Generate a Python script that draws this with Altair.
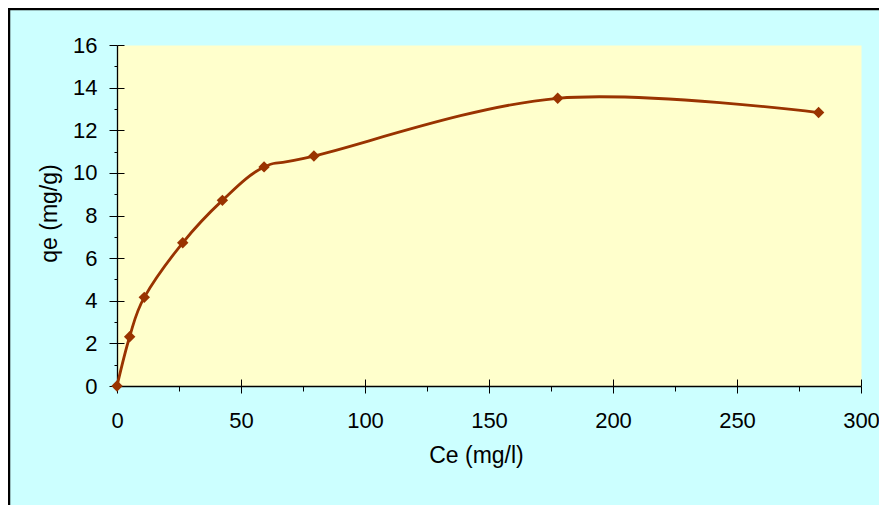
import altair as alt
import pandas as pd

# Data
ce = [0, 5.1, 11.0, 26.5, 42.5, 59.3, 79.4, 177.7, 282.9]
qe = [0, 2.31, 4.16, 6.72, 8.71, 10.28, 10.79, 13.50, 12.83]

x_major = [0, 50, 100, 150, 200, 250, 300]
x_minor = [25, 75, 125, 175, 225, 275]
y_major = [0, 2, 4, 6, 8, 10, 12, 14, 16]
y_minor = [1, 3, 5, 7, 9, 11, 13, 15]

df = pd.DataFrame({"Ce": ce, "qe": qe})

W, H = 744, 341
PL, PT = 109, 37
TOTAL_W, TOTAL_H = 871, 497

FONT = "Liberation Sans"
FS = 22
TFS = 23
LINE_COLOR = "#993300"

xscale = alt.Scale(domain=[0, 300], nice=False, zero=True)
yscale = alt.Scale(domain=[0, 16], nice=False, zero=True)

base = alt.Chart(df)

# main line with labelled axes
line = base.mark_line(interpolate="cardinal", color=LINE_COLOR, strokeWidth=2.8).encode(
    x=alt.X("Ce:Q", scale=xscale, axis=alt.Axis(
        orient="bottom", values=x_major, tickSize=7, tickColor="black", tickWidth=1,
        domainColor="black", domainWidth=1.3, labelFont=FONT, labelFontSize=FS,
        labelColor="black", labelPadding=17, labelFlush=False, labelOverlap=False,
        grid=False,
        title="Ce (mg/l)", titleFont=FONT, titleFontSize=TFS, titleFontWeight="normal",
        titleColor="black", titleX=359, titleY=69, titleBaseline="middle", titleAlign="center")),
    y=alt.Y("qe:Q", scale=yscale, axis=alt.Axis(
        orient="left", values=y_major, tickSize=8, tickColor="black", tickWidth=1,
        domainColor="black", domainWidth=1.3, labelFont=FONT, labelFontSize=FS,
        labelColor="black", labelPadding=12, labelFlush=False, labelOverlap=False,
        grid=False,
        title="qe (mg/g)", titleFont=FONT, titleFontSize=TFS, titleFontWeight="normal",
        titleColor="black", titleX=-68, titleY=168, titleAngle=270,
        titleBaseline="middle", titleAlign="center")),
)

points = base.mark_point(shape="diamond", filled=True, color=LINE_COLOR, opacity=1, size=130).encode(
    x=alt.X("Ce:Q", scale=xscale, axis=None),
    y=alt.Y("qe:Q", scale=yscale, axis=None),
)

# minor ticks (outside)
minor = base.mark_point(opacity=0).encode(
    x=alt.X("Ce:Q", scale=xscale, axis=alt.Axis(
        orient="bottom", values=x_minor, tickSize=5, tickColor="black", tickWidth=1,
        domain=False, labels=False, title=None, grid=False)),
    y=alt.Y("qe:Q", scale=yscale, axis=alt.Axis(
        orient="left", values=y_minor, tickSize=3, tickColor="black", tickWidth=1,
        domain=False, labels=False, title=None, grid=False)),
)

# inner half of the major ticks (crossing the axis)
inner = base.mark_point(opacity=0).encode(
    x=alt.X("Ce:Q", scale=xscale, axis=alt.Axis(
        orient="bottom", values=x_major, tickSize=7, tickColor="black", tickWidth=1,
        offset=-7, domain=False, labels=False, title=None, grid=False)),
    y=alt.Y("qe:Q", scale=yscale, axis=alt.Axis(
        orient="left", values=y_major, tickSize=7, tickColor="black", tickWidth=1,
        offset=-7, domain=False, labels=False, title=None, grid=False)),
)

frame_df = pd.DataFrame({"k": [0]})
top_rule = alt.Chart(frame_df).mark_rule(color="black", strokeWidth=2.5).encode(
    x=alt.value(-PL), x2=alt.value(TOTAL_W - PL), y=alt.value(-PT + 1))
left_rule = alt.Chart(frame_df).mark_rule(color="black", strokeWidth=2.5).encode(
    x=alt.value(-PL + 1), y=alt.value(-PT), y2=alt.value(TOTAL_H - PT))

chart = alt.layer(minor, inner, line, points, top_rule, left_rule).resolve_axis(
    x="independent", y="independent"
).properties(
    width=W, height=H,
    background="#CCFFFF",
    padding={"left": PL, "top": PT, "right": TOTAL_W - PL - W, "bottom": TOTAL_H - PT - H},
    autosize=alt.AutoSizeParams(type="none"),
).configure_view(fill="#FFFFCC", stroke="transparent")

chart.save("out.html", embed_options={"renderer": "svg", "actions": False})
